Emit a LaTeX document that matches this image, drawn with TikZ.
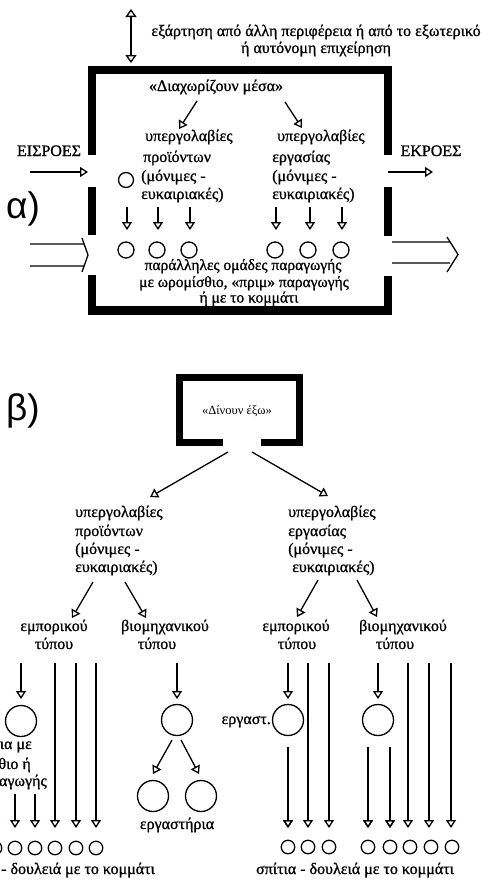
\documentclass[tikz,border=0pt]{standalone}
\usepackage{fontspec}
\setmainfont{Liberation Serif}
\newfontfamily\heavy{Liberation Serif}[FakeBold=1.0]
\newfontfamily\labfont{Liberation Sans}
\usetikzlibrary{arrows.meta}
\begin{document}
\begin{tikzpicture}[x=1pt,y=-1pt,
  txt/.style={inner sep=0pt, font=\heavy\fontsize{16}{19}\selectfont, anchor=base},
  txtw/.style={txt, anchor=base west},
  txte/.style={txt, anchor=base east},
  ptxt/.style={txt, font=\heavy\fontsize{15.5}{17}\selectfont},
  big/.style={inner sep=0pt, anchor=base west, font=\labfont\fontsize{37}{40}\selectfont},
  ln/.style={line width=1.3pt},
  oa/.style={ln, -{Triangle[open,length=8pt,width=10pt,line width=1.3pt]}},
  da/.style={ln, {Triangle[open,length=8pt,width=11pt,line width=1.3pt]}-{Triangle[open,length=8pt,width=11pt,line width=1.3pt]}},
  wall/.style={line width=8.5pt, line join=miter},
  swall/.style={line width=7pt, line join=miter},
  circ/.style={draw, circle, line width=1.3pt, inner sep=0pt},
  sc/.style={circ, minimum size=13.5pt},
  mc/.style={circ, minimum size=15pt},
  bc/.style={circ, minimum size=31pt}]
\useasboundingbox (0,0) rectangle (492,886);
\clip (0,0) rectangle (492,886);

% ---------- part a ----------
\coordinate (dt) at (131,9);
\coordinate (db) at (131,63);
\draw[da] (dt) -- (db);
\node[txt] (dep1) at (316,36) {εξάρτηση από άλλη περιφέρεια ή από το εξωτερικό};
\node[txt] (dep2) at (316,53) {ή αυτόνομη επιχείρηση};

% big box
\draw[wall] (92,155) -- (92,70) -- (388,70) -- (388,155);
\draw[wall] (92,187) -- (92,235);
\draw[wall] (388,187) -- (388,236);
\draw[wall] (92,275) -- (92,310.5) -- (388,310.5) -- (388,276);

\node[txt] (inside) at (216,91) {«Διαχωρίζουν μέσα»};
\coordinate (ia1) at (197,101); \coordinate (ia2) at (179,129);
\coordinate (ib1) at (285,102); \coordinate (ib2) at (302,128);
\draw[oa] (ia1) -- (ia2);
\draw[oa] (ib1) -- (ib2);

\node[txtw] (pl1) at (145,141) {υπεργολαβίες};
\node[txtw] (pl2) at (143,162) {προϊόντων};
\node[txtw] (pl3) at (141,181) {(μόνιμες -};
\node[txtw] (pl4) at (141,199) {ευκαιριακές)};
\node[txtw] (wl1) at (277,141) {υπεργολαβίες};
\node[txtw] (wl2) at (272,162) {εργασίας};
\node[txtw] (wl3) at (272,181) {(μόνιμες -};
\node[txtw] (wl4) at (272,199) {ευκαιριακές)};
\node[mc] (lonec) at (126,180) {};

\node[txt] (inlab) at (49,156) {ΕΙΣΡΟΕΣ};
\node[txt] (outlab) at (431,156) {ΕΚΡΟΕΣ};
\coordinate (in1) at (30,172); \coordinate (in2) at (88,172);
\coordinate (out1) at (388,172); \coordinate (out2) at (433,172);
\draw[oa] (in1) -- (in2);
\draw[oa] (out1) -- (out2);

\node[big] (alab) at (6,218) {α)};

% hollow double arrows
\draw[ln, line join=miter] (30,244) -- (84.5,244) (30,266) -- (84.5,266) (82,238) -- (88,255) -- (82,272);
\draw[ln, line join=miter] (392,242) -- (450,242) (392,263) -- (450,263) (447,237) -- (458,254.5) -- (447,272);

% small arrows and circles in box
\foreach \x [count=\i] in {127,158,190,276,310,342}{
  \coordinate (sa\i) at (\x,207);
  \coordinate (sb\i) at (\x,230);
  \draw[oa] (sa\i) -- (sb\i);
}
\foreach \x [count=\i] in {126,157,189,275,308,341}{
  \node[mc, minimum size=16pt] (g\i) at (\x,250) {};
}

\node[ptxt] (par1) at (243,270) {παράλληλες ομάδες παραγωγής};
\node[ptxt] (par2) at (244,287) {με ωρομίσθιο, «πριμ» παραγωγής};
\node[ptxt] (par3) at (249,302.5) {ή με το κομμάτι};

% ---------- part b ----------
\node[big] (blab) at (6,420) {β)};
\draw[swall] (223,442.5) -- (179.5,442.5) -- (179.5,377.5) -- (299.5,377.5) -- (299.5,442.5) -- (261,442.5);
\node[txt, font=\fontsize{12.5}{14}\selectfont] (out) at (237,414) {«Δίνουν έξω»};
\coordinate (o1) at (228,452); \coordinate (o2) at (150,497);
\coordinate (o3) at (252,452); \coordinate (o4) at (328,496);
\draw[oa] (o1) -- (o2);
\draw[oa] (o3) -- (o4);

\node[txtw] (bp1) at (75,517) {υπεργολαβίες};
\node[txtw] (bp2) at (75,536) {προϊόντων};
\node[txtw] (bp3) at (75,554) {(μόνιμες -};
\node[txtw] (bp4) at (75,572) {ευκαιριακές)};
\node[txtw] (bw1) at (288,517) {υπεργολαβίες};
\node[txtw] (bw2) at (288,536) {εργασίας};
\node[txtw] (bw3) at (288,554) {(μόνιμες -};
\node[txtw] (bw4) at (292,572) {ευκαιριακές)};

\coordinate (p1) at (93,582); \coordinate (p2) at (72,618);
\coordinate (p3) at (125,582); \coordinate (p4) at (146,618);
\coordinate (w1) at (318,580); \coordinate (w2) at (297,617);
\coordinate (w3) at (357,580); \coordinate (w4) at (377,617);
\draw[oa] (p1) -- (p2); \draw[oa] (p3) -- (p4);
\draw[oa] (w1) -- (w2); \draw[oa] (w3) -- (w4);

\node[txt] (em1) at (54,631) {εμπορικού};
\node[txt] (em1b) at (54,649) {τύπου};
\node[txt] (bi1) at (165,631) {βιομηχανικού};
\node[txt] (bi1b) at (157,649) {τύπου};
\node[txt] (em2) at (296,631) {εμπορικού};
\node[txt] (em2b) at (297,649) {τύπου};
\node[txt] (bi2) at (403,631) {βιομηχανικού};
\node[txt] (bi2b) at (395,649) {τύπου};

% workshop circles
\node[bc] (wa) at (21,721) {};
\node[bc] (wb) at (177,720) {};
\node[bc] (wc) at (288,720) {};
\node[bc] (wd) at (378,720) {};
\node[bc] (we) at (153,796) {};
\node[bc] (wf) at (201,796) {};
\foreach \x/\c in {21/a,177/b,288/c,378/d}{
  \coordinate (top\c) at (\x,663);
  \coordinate (tip\c) at (\x,699);
  \draw[oa] (top\c) -- (tip\c);
}
\coordinate (s1) at (172,740); \coordinate (s2) at (153,774);
\coordinate (s3) at (181,740); \coordinate (s4) at (199,774);
\draw[oa] (s1) -- (s2); \draw[oa] (s3) -- (s4);
\node[txt] (ergl) at (177,829) {εργαστήρια};
\node[txte] (erg2) at (271,724) {εργαστ.};

\node[txte] (fr1) at (32,749) {ια με};
\node[txte] (fr2) at (31,769) {θιο ή};
\node[txte] (fr3) at (47,786) {αγωγής};

% long lines
\foreach \x [count=\i] in {55,76,96,308,329,408,429,451}{
  \coordinate (la\i) at (\x,663);
  \coordinate (lb\i) at (\x,828);
  \draw[oa] (la\i) -- (lb\i);
}
% short lines
\foreach \x [count=\i] in {-5,15,35,288,368,390}{
  \coordinate (ka\i) at (\x,794);
  \coordinate (kb\i) at (\x,828);
  \draw[oa] (ka\i) -- (kb\i);
}
\coordinate (k4a) at (288,747); \draw[oa] (k4a) -- (kb4);
\coordinate (k5a) at (368,747); \draw[oa] (k5a) -- (kb5);
\coordinate (k6a) at (390,747); \draw[oa] (k6a) -- (kb6);

% homes
\foreach \x [count=\i] in {-5,15,35,55,76,96}{
  \node[sc] (ha\i) at (\x,848) {};
}
\foreach \x [count=\i] in {288,308,329,368,390,410,431,452}{
  \node[sc] (hb\i) at (\x,847) {};
}
\node[txtw] (home1) at (1,874) {- δουλειά με το κομμάτι};
\node[txt] (home2) at (355,874) {σπίτια - δουλειά με το κομμάτι};
\end{tikzpicture}
\end{document}
